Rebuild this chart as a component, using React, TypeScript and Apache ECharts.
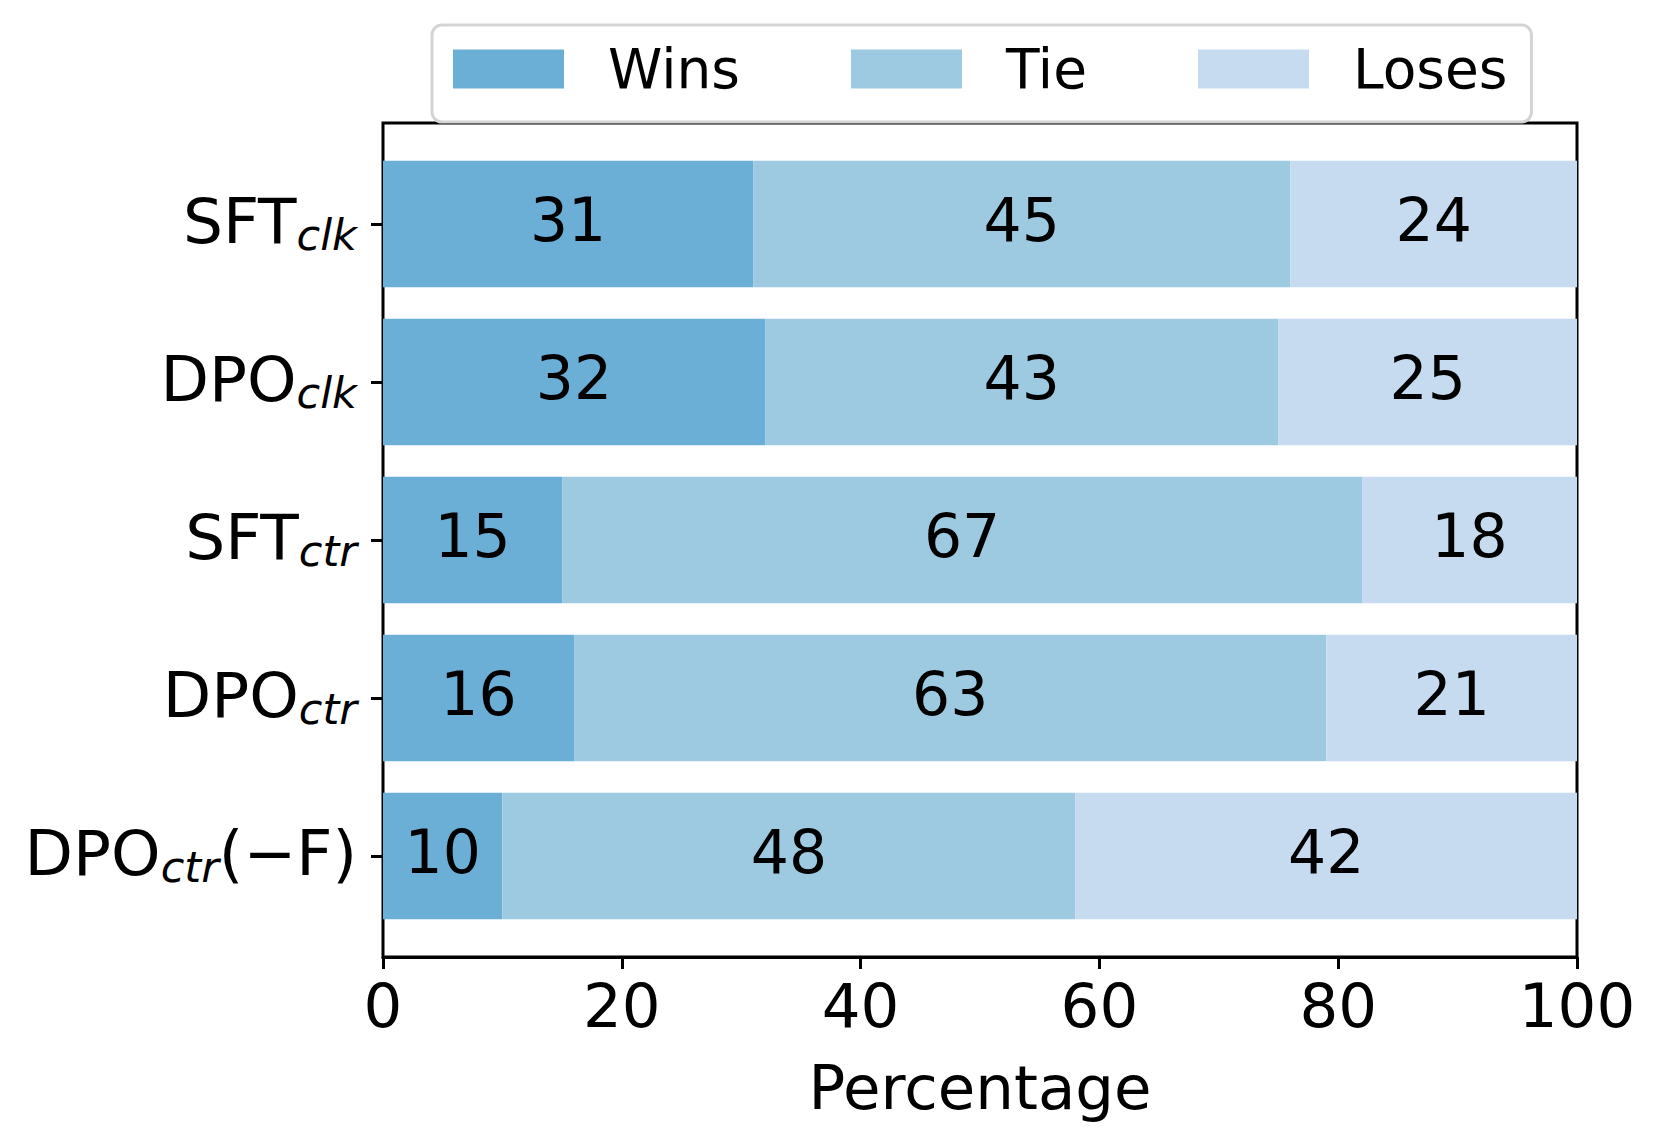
import React, { useEffect, useRef } from "react";
import * as echarts from "echarts";

const categories = ["SFT|clk|", "DPO|clk|", "SFT|ctr|", "DPO|ctr|", "DPO|ctr|(−F)"];
const seriesNames = ["Wins", "Tie", "Loses"];
const wins = [31, 32, 15, 16, 10];
const tie = [45, 43, 67, 63, 48];
const loses = [24, 25, 18, 21, 42];
const colors = ["#6baed6", "#9ecae1", "#c6dbef"];
const xTicks = { min: 0, max: 100, interval: 20 };

const FONT = "'DejaVu Sans', sans-serif";

function labelFormatter(v: string) {
  const parts = v.split("|");
  let out = `{m|${parts[0]}}{s|${parts[1]}}`;
  if (parts[2]) out += `{m|${parts[2]}}`;
  return out;
}

export default function App() {
  const ref = useRef<HTMLDivElement>(null);
  useEffect(() => {
    document.body.style.margin = "0";
    const chart = echarts.init(ref.current!, null, { renderer: "svg" });
    const L = 383, R = 1662 - 1577, T0 = 123, B0 = 1141 - 957;
    const T1 = 145, B1 = 1141 - 935;
    const data = [wins, tie, loses];
    chart.setOption({
      animation: false,
      backgroundColor: "#ffffff",
      textStyle: { fontFamily: FONT },
      legend: {
        left: 432,
        top: 25,
        orient: "horizontal",
        icon: "rect",
        itemWidth: 111,
        itemHeight: 39,
        itemGap: 111,
        padding: [16, 24, 25, 21],
        backgroundColor: "#ffffff",
        borderColor: "#d4d4d4",
        borderWidth: 3,
        borderRadius: 10,
        textStyle: {
          fontFamily: FONT,
          fontSize: 55,
          lineHeight: 56,
          color: "#000",
          padding: [0, 0, 0, 39],
        },
        data: seriesNames,
      },
      grid: [
        { left: L, right: R, top: T0, bottom: B0, show: true, borderColor: "#000", borderWidth: 3, backgroundColor: "transparent" },
        { left: L, right: R, top: T1, bottom: B1 },
      ],
      xAxis: [
        {
          type: "value",
          gridIndex: 0,
          min: xTicks.min,
          max: xTicks.max,
          interval: xTicks.interval,
          name: "Percentage",
          nameLocation: "middle",
          nameGap: 100,
          nameTextStyle: { fontFamily: FONT, fontSize: 61, color: "#000" },
          axisLine: { show: true, lineStyle: { color: "#000", width: 3 } },
          axisTick: { show: true, length: 12, lineStyle: { color: "#000", width: 3 } },
          axisLabel: { fontFamily: FONT, fontSize: 61, color: "#000", margin: 18 },
          splitLine: { show: false },
        },
        {
          type: "value",
          gridIndex: 1,
          min: xTicks.min,
          max: xTicks.max,
          show: false,
        },
      ],
      yAxis: [
        {
          type: "value",
          gridIndex: 0,
          min: 0,
          max: 1,
          show: false,
        },
        {
          type: "category",
          gridIndex: 1,
          inverse: true,
          data: categories,
          axisLine: { show: false },
          axisTick: { show: true, alignWithLabel: true, length: 12, lineStyle: { color: "#000", width: 3 } },
          axisLabel: {
            margin: 26,
            color: "#000",
            padding: [0, 0, 6, 0],
            formatter: labelFormatter,
            rich: {
              m: { fontFamily: FONT, fontSize: 63, lineHeight: 70, color: "#000" },
              s: { fontFamily: FONT, fontSize: 43, fontStyle: "italic", lineHeight: 26, verticalAlign: "bottom", color: "#000" },
            },
          },
          splitLine: { show: false },
        },
      ],
      series: seriesNames.map((name, i) => ({
        name,
        type: "bar",
        stack: "total",
        xAxisIndex: 1,
        yAxisIndex: 1,
        barCategoryGap: "20%",
        itemStyle: { color: colors[i] },
        label: {
          show: true,
          position: "inside",
          offset: [0, -4],
          fontFamily: FONT,
          fontSize: 60,
          color: "#000",
        },
        data: data[i],
      })),
    });
    return () => chart.dispose();
  }, []);
  return <div ref={ref} style={{ width: 1662, height: 1141 }} />;
}
